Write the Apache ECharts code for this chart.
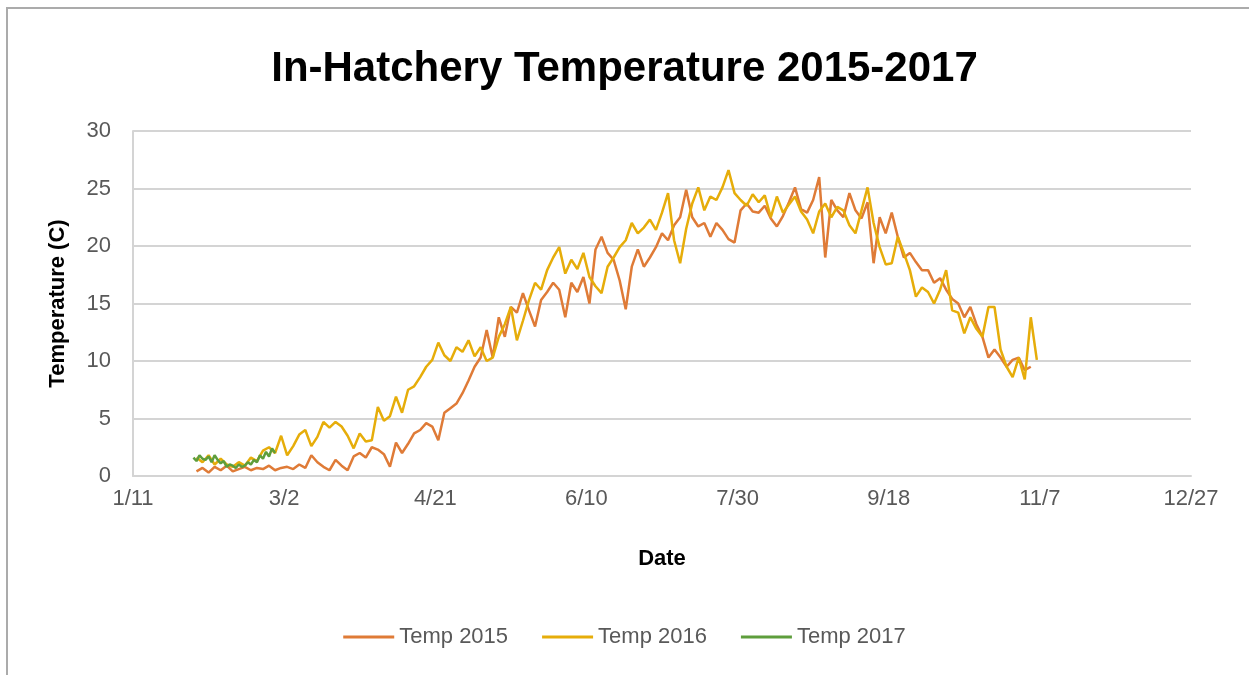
<!DOCTYPE html>
<html>
<head>
<meta charset="utf-8">
<script src="https://cdn.jsdelivr.net/npm/echarts@6/dist/echarts.min.js"></script>
<style>
    html, body { margin: 0; padding: 0; background: #fff; }
    #chart { width: 1249px; height: 675px; }
</style>
</head>
<body>
<div id="chart"></div>
<script>
// x is counted in days after 1/11, ticks every 50 days
const tickLabels = ['1/11', '3/2', '4/21', '6/10', '7/30', '9/18', '11/7', '12/27']

// Temp 2015: one reading every 2 days from day 21 after 1/11
const start2015 = 21
const step2015 = 2
const temp2015 = [
    0.4, 0.7, 0.3, 0.8, 0.5, 0.9, 0.4, 0.6, 0.8, 0.5,
    0.7, 0.6, 0.9, 0.5, 0.7, 0.8, 0.6, 1.0, 0.7, 1.8,
    1.2, 0.8, 0.5, 1.4, 0.9, 0.5, 1.7, 2.0, 1.6, 2.5,
    2.3, 1.9, 0.8, 2.9, 2.0, 2.8, 3.7, 4.0, 4.6, 4.3,
    3.1, 5.5, 5.9, 6.3, 7.2, 8.3, 9.5, 10.3, 12.7, 10.3,
    13.8, 12.1, 14.7, 14.2, 15.9, 14.4, 13.0, 15.3, 16.0, 16.8,
    16.2, 13.8, 16.8, 16.0, 17.3, 15.0, 19.7, 20.8, 19.4, 18.8,
    17.0, 14.5, 18.2, 19.7, 18.2, 19.0, 19.9, 21.1, 20.5, 21.8,
    22.5, 24.9, 22.5, 21.7, 22.0, 20.8, 22.0, 21.4, 20.6, 20.3,
    23.1, 23.7, 23.0, 22.9, 23.5, 22.4, 21.7, 22.6, 23.8, 25.1,
    23.2, 22.9, 24.0, 26.0, 19.0, 24.0, 23.1, 22.5, 24.6, 23.1,
    22.4, 23.8, 18.5, 22.5, 21.1, 22.9, 20.8, 19.0, 19.4, 18.6,
    17.9, 17.9, 16.8, 17.2, 16.2, 15.4, 15.0, 13.8, 14.7, 13.2,
    12.1, 10.3, 11.0, 10.3, 9.5, 10.1, 10.3, 9.2, 9.5
]

// Temp 2016: same spacing
const start2016 = 21
const step2016 = 2
const temp2016 = [
    1.6, 1.2, 1.8, 1.0, 1.5, 1.0, 0.8, 1.2, 0.9, 1.6,
    1.3, 2.2, 2.5, 2.0, 3.5, 1.8, 2.6, 3.6, 4.0, 2.6,
    3.4, 4.7, 4.2, 4.7, 4.3, 3.5, 2.4, 3.7, 3.0, 3.1,
    6.0, 4.8, 5.2, 6.9, 5.5, 7.5, 7.8, 8.6, 9.5, 10.1,
    11.6, 10.5, 10.0, 11.2, 10.8, 11.8, 10.4, 11.2, 10.0, 10.3,
    12.1, 13.2, 14.7, 11.8, 13.5, 15.3, 16.8, 16.2, 17.9, 19.0,
    19.9, 17.6, 18.8, 18.0, 19.4, 17.3, 16.5, 15.9, 18.2, 19.0,
    19.9, 20.5, 22.0, 21.1, 21.6, 22.3, 21.4, 22.9, 24.6, 20.5,
    18.5, 21.5, 23.7, 25.1, 23.1, 24.3, 24.0, 25.1, 26.6, 24.6,
    24.0, 23.5, 24.5, 23.8, 24.4, 22.5, 24.3, 22.9, 23.6, 24.3,
    23.0, 22.3, 21.1, 23.0, 23.7, 22.5, 23.4, 23.1, 21.8, 21.1,
    23.1, 25.1, 22.0, 19.9, 18.4, 18.5, 20.8, 19.4, 17.9, 15.6,
    16.4, 16.0, 15.0, 16.2, 17.9, 14.4, 14.2, 12.4, 13.8, 12.8,
    12.1, 14.7, 14.7, 11.0, 9.5, 8.6, 10.3, 8.4, 13.8, 10.1
]

// Temp 2017: daily readings from day 20 after 1/11
const start2017 = 20
const step2017 = 1
const temp2017 = [
    1.6, 1.3, 1.8, 1.5, 1.4, 1.7, 1.2, 1.8, 1.4, 1.1,
    1.3, 0.8, 1.0, 0.9, 0.7, 1.0, 0.8, 0.9, 1.2, 1.0,
    1.4, 1.2, 1.8, 1.5, 2.1, 1.7, 2.4, 2.0
]

const toPairs = (start, step, values) => values.map((v, i) => [start + i * step, v])

const labelFont = 'Liberation Sans'
const grey = '#595959'

const option = {
    animation: false,
    backgroundColor: '#fff',
    title: {
        text: 'In-Hatchery Temperature 2015-2017',
        left: 'center',
        top: 43,
        textStyle: {
            fontFamily: labelFont,
            fontWeight: 'bold',
            fontSize: 42,
            color: '#000'
        }
    },
    graphic: [{
        type: 'rect',
        shape: { x: 7, y: 8, width: 1300, height: 700 },
        style: { fill: 'none', stroke: '#ababab', lineWidth: 2 },
        silent: true
    }],
    grid: {
        left: 133,
        right: 58,
        top: 131,
        bottom: 199
    },
    legend: {
        bottom: 22,
        left: 'center',
        icon: 'rect',
        itemWidth: 51,
        itemHeight: 3,
        itemGap: 34,
        textStyle: { fontFamily: labelFont, fontSize: 22, color: grey },
        data: ['Temp 2015', 'Temp 2016', 'Temp 2017']
    },
    xAxis: {
        type: 'value',
        min: 0,
        max: 350,
        interval: 50,
        name: 'Date',
        nameLocation: 'middle',
        nameGap: 72,
        nameTextStyle: { fontFamily: labelFont, fontWeight: 'bold', fontSize: 22, color: '#000' },
        axisLine: { lineStyle: { color: '#d4d4d4', width: 2 } },
        axisTick: { show: false },
        splitLine: { show: false },
        axisLabel: {
            margin: 12,
            fontFamily: labelFont,
            fontSize: 22,
            color: grey,
            formatter: (v) => tickLabels[Math.round(v / 50)]
        }
    },
    yAxis: {
        type: 'value',
        min: 0,
        max: 30,
        interval: 5,
        name: 'Temperature (C)',
        nameLocation: 'middle',
        nameGap: 64,
        nameTextStyle: { fontFamily: labelFont, fontWeight: 'bold', fontSize: 22, color: '#000' },
        axisLine: { show: true, lineStyle: { color: '#d4d4d4', width: 2 } },
        axisTick: { show: false },
        splitLine: { lineStyle: { color: '#d4d4d4', width: 2 } },
        axisLabel: {
            margin: 22,
            fontFamily: labelFont,
            fontSize: 22,
            color: grey
        }
    },
    series: [
        {
            name: 'Temp 2015',
            type: 'line',
            symbol: 'none',
            data: toPairs(start2015, step2015, temp2015),
            lineStyle: { color: '#df7b37', width: 2.5 },
            itemStyle: { color: '#df7b37' }
        },
        {
            name: 'Temp 2016',
            type: 'line',
            symbol: 'none',
            data: toPairs(start2016, step2016, temp2016),
            lineStyle: { color: '#e6ad0a', width: 2.5 },
            itemStyle: { color: '#e6ad0a' }
        },
        {
            name: 'Temp 2017',
            type: 'line',
            symbol: 'none',
            data: toPairs(start2017, step2017, temp2017),
            lineStyle: { color: '#5e9e3c', width: 2.5 },
            itemStyle: { color: '#5e9e3c' }
        }
    ]
}

const chart = echarts.init(document.getElementById('chart'))
chart.setOption(option)
</script>
</body>
</html>
